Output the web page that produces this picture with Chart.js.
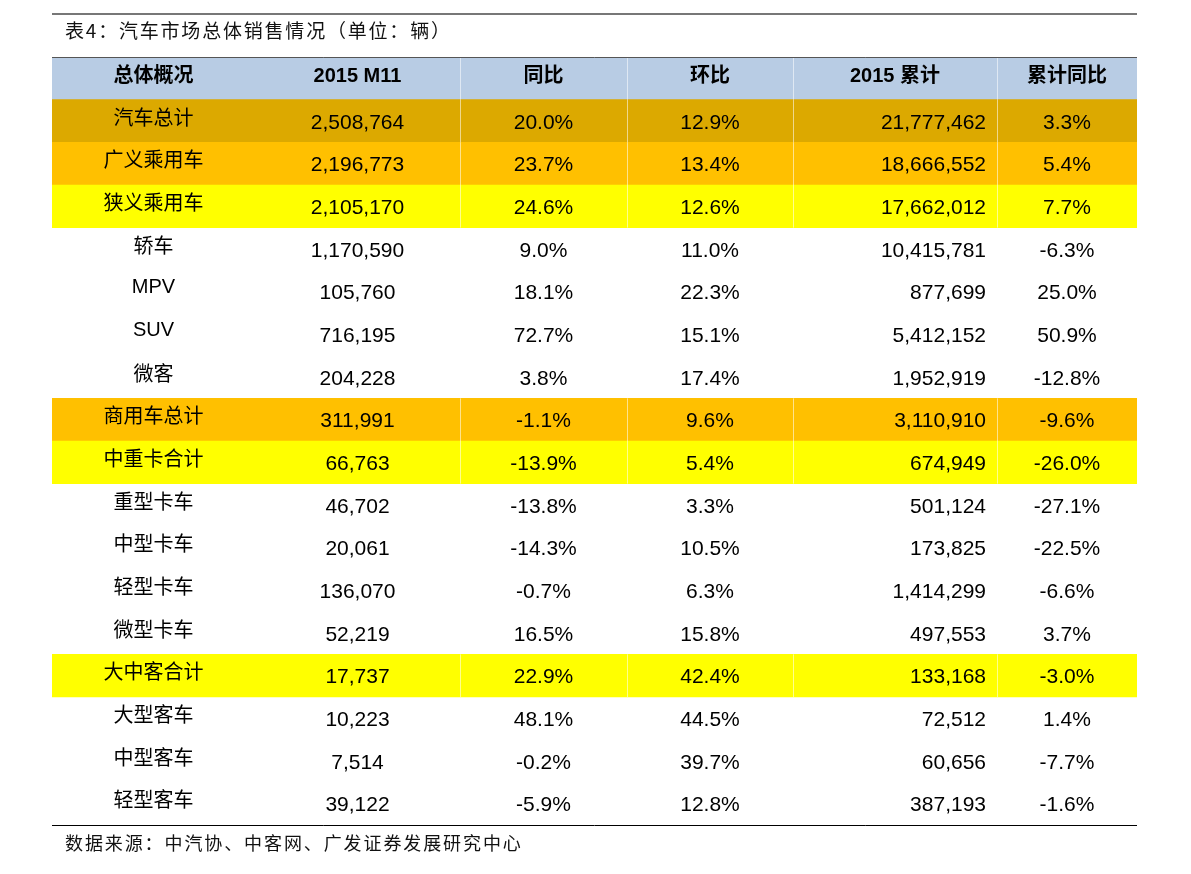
<!DOCTYPE html>
<html>
<head>
<meta charset="utf-8">
<script src="https://cdn.jsdelivr.net/npm/chart.js@4/dist/chart.umd.min.js"></script>
<style>
  body { margin: 0; background: #fff; }
  #wrap { width: 1191px; height: 874px; position: relative; }
</style>
</head>
<body>
<div id="wrap"><canvas id="chart"></canvas></div>
<script>
// table data //
const titleText = '表4：汽车市场总体销售情况（单位：辆）';
const sourceText = '数据来源：中汽协、中客网、广发证券发展研究中心';
const headers = ['总体概况', '2015 M11', '同比', '环比', '2015 累计', '累计同比'];
const categories = ['汽车总计', '广义乘用车', '狭义乘用车', '轿车', 'MPV', 'SUV', '微客', '商用车总计', '中重卡合计',
    '重型卡车', '中型卡车', '轻型卡车', '微型卡车', '大中客合计', '大型客车', '中型客车', '轻型客车'];
const monthSales = [2508764, 2196773, 2105170, 1170590, 105760, 716195, 204228, 311991, 66763,
    46702, 20061, 136070, 52219, 17737, 10223, 7514, 39122];
const monthYoy = [20.0, 23.7, 24.6, 9.0, 18.1, 72.7, 3.8, -1.1, -13.9, -13.8, -14.3, -0.7, 16.5, 22.9, 48.1, -0.2, -5.9];
const monthMom = [12.9, 13.4, 12.6, 11.0, 22.3, 15.1, 17.4, 9.6, 5.4, 3.3, 10.5, 6.3, 15.8, 42.4, 44.5, 39.7, 12.8];
const ytdSales = [21777462, 18666552, 17662012, 10415781, 877699, 5412152, 1952919, 3110910, 674949,
    501124, 173825, 1414299, 497553, 133168, 72512, 60656, 387193];
const ytdYoy = [3.3, 5.4, 7.7, -6.3, 25.0, 50.9, -12.8, -9.6, -26.0, -27.1, -22.5, -6.6, 3.7, -3.0, 1.4, -7.7, -1.6];

// layout + styles //
const colWidths = [203, 205, 167, 166, 204, 140];
const totalWidth = colWidths.reduce((a, b) => a + b, 0);
const colEdges = colWidths.reduce((acc, w) => { acc.push(acc[acc.length - 1] + w); return acc; }, [0]);
const headerColor = '#b8cce4';
const highlight = {
    '汽车总计': '#dca900',
    '广义乘用车': '#ffc000',
    '狭义乘用车': '#ffff00',
    '商用车总计': '#ffc000',
    '中重卡合计': '#ffff00',
    '大中客合计': '#ffff00'
};
const rowLabels = ['header'].concat(categories);
const rowColors = [headerColor].concat(categories.map(c => highlight[c] || 'rgba(0,0,0,0)'));

const fmtNum = v => v.toLocaleString('en-US');
const fmtPct = v => v.toFixed(1) + '%';
const latin = '"Liberation Sans", "Noto Sans CJK SC"';
const cjk = '"Noto Sans CJK SC", "Liberation Sans"';

const tablePlugin = {
    id: 'tableText',
    beforeDraw(chart) {
        const ctx = chart.ctx;
        ctx.save();
        ctx.fillStyle = '#fff';
        ctx.fillRect(0, 0, chart.width, chart.height);
        ctx.restore();
    },
    afterDatasetsDraw(chart) {
        const ctx = chart.ctx;
        const xs = chart.scales.x;
        const ys = chart.scales.y;
        const area = chart.chartArea;
        const band = ys.getPixelForValue(1) - ys.getPixelForValue(0);
        ctx.save();

        // white column dividers on coloured rows
        ctx.strokeStyle = 'rgba(255,255,255,0.55)';
        ctx.lineWidth = 1;
        rowColors.forEach((c, i) => {
            if (c === 'rgba(0,0,0,0)') return;
            const yc = ys.getPixelForValue(i);
            [2, 3, 4, 5].forEach(k => {
                const x = Math.round(xs.getPixelForValue(colEdges[k])) + 0.5;
                ctx.beginPath();
                ctx.moveTo(x, yc - band / 2);
                ctx.lineTo(x, yc + band / 2);
                ctx.stroke();
            });
        });

        // rules
        ctx.strokeStyle = '#777';
        ctx.lineWidth = 2;
        ctx.beginPath();
        ctx.moveTo(area.left, 14);
        ctx.lineTo(area.right, 14);
        ctx.stroke();
        ctx.strokeStyle = '#555';
        ctx.lineWidth = 1;
        ctx.beginPath();
        ctx.moveTo(area.left, area.top + 0.5);
        ctx.lineTo(area.right, area.top + 0.5);
        ctx.stroke();
        ctx.strokeStyle = '#000';
        ctx.beginPath();
        ctx.moveTo(area.left, area.bottom + 0.5);
        ctx.lineTo(area.right, area.bottom + 0.5);
        ctx.stroke();

        // title + source
        ctx.fillStyle = '#111';
        ctx.textBaseline = 'middle';
        ctx.textAlign = 'left';
        ctx.letterSpacing = '1.8px';
        ctx.font = '19px ' + cjk;
        ctx.fillText(titleText, area.left + 13, 31);
        ctx.letterSpacing = '1.9px';
        ctx.font = '18px ' + cjk;
        ctx.fillText(sourceText, area.left + 13, area.bottom + 18);
        ctx.letterSpacing = '0px';

        // header
        const colCenter = k => xs.getPixelForValue((colEdges[k] + colEdges[k + 1]) / 2);
        const hy = ys.getPixelForValue(0) - 2;
        ctx.textAlign = 'center';
        ctx.fillStyle = '#000';
        headers.forEach((h, k) => {
            ctx.font = 'bold 20px ' + latin;
            ctx.fillText(h, colCenter(k), hy);
        });

        // body
        categories.forEach((cat, i) => {
            const yc = ys.getPixelForValue(i + 1);
            ctx.textAlign = 'center';
            ctx.font = '20px ' + (/^[A-Z]+$/.test(cat) ? latin : cjk);
            ctx.fillText(cat, colCenter(0), yc - 4);
            ctx.font = '21px ' + latin;
            ctx.fillText(fmtNum(monthSales[i]), colCenter(1), yc + 2);
            ctx.fillText(fmtPct(monthYoy[i]), colCenter(2), yc + 2);
            ctx.fillText(fmtPct(monthMom[i]), colCenter(3), yc + 2);
            ctx.fillText(fmtPct(ytdYoy[i]), colCenter(5), yc + 2);
            ctx.textAlign = 'right';
            ctx.fillText(fmtNum(ytdSales[i]), xs.getPixelForValue(colEdges[5] - 11), yc + 2);
        });
        ctx.restore();
    }
};

const chart = document.querySelector('#chart').getContext('2d');

new Chart(chart, {
    type: 'bar',
    data: {
        labels: rowLabels,
        datasets: [
            {
                data: rowLabels.map(() => [0, totalWidth]),
                backgroundColor: rowColors,
                borderWidth: 0,
                barPercentage: 1,
                categoryPercentage: 1
            }
        ]
    },
    options: {
        indexAxis: 'y',
        responsive: true,
        maintainAspectRatio: false,
        animation: false,
        layout: { padding: { left: 52, right: 54, top: 57, bottom: 49 } },
        plugins: { legend: { display: false }, tooltip: { enabled: false } },
        scales: {
            x: { type: 'linear', min: 0, max: totalWidth, display: false },
            y: { type: 'category', display: false, offset: true }
        }
    },
    plugins: [tablePlugin]
});
</script>
</body>
</html>
